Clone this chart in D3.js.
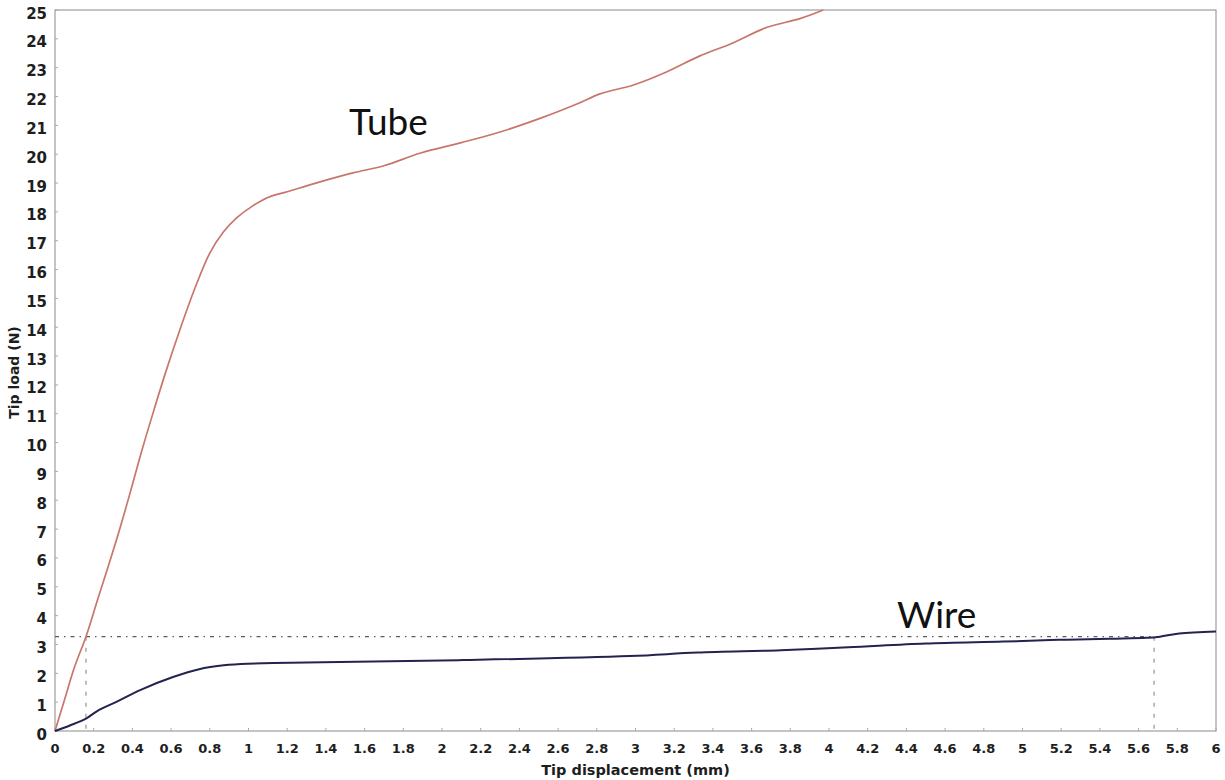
<!DOCTYPE html>
<html>
<head>
<meta charset="utf-8">
<script src="https://cdn.jsdelivr.net/npm/d3@7"></script>
<style>
  html, body { margin: 0; padding: 0; background: #fff; }
  svg { display: block; }
  .tick-label { font-family: "DejaVu Sans", sans-serif; font-weight: bold; fill: #1e1e1e; }
  .axis-title { font-family: "DejaVu Sans", sans-serif; font-weight: bold; fill: #1e1e1e; }
  .curve-name { font-family: Lato, "Open Sans", sans-serif; fill: #111; }
</style>
</head>
<body>
<svg id="chart" width="1225" height="780"></svg>
<script>
// Tip load vs tip displacement for the tube and the wire
const tubeDisp = [0, 0.05, 0.10, 0.16, 0.22, 0.27, 0.33, 0.39, 0.45, 0.51, 0.57, 0.65, 0.72, 0.80, 0.87, 0.94, 1.02, 1.10, 1.20, 1.37, 1.54, 1.70, 1.89, 2.10, 2.30, 2.51, 2.70, 2.82, 2.99, 3.16, 3.33, 3.50, 3.68, 3.85, 3.97];
const tubeLoad = [0, 1.1, 2.2, 3.27, 4.55, 5.6, 6.9, 8.3, 9.75, 11.1, 12.4, 14.0, 15.3, 16.57, 17.3, 17.8, 18.2, 18.5, 18.7, 19.04, 19.35, 19.6, 20.04, 20.4, 20.77, 21.25, 21.75, 22.1, 22.4, 22.85, 23.4, 23.85, 24.4, 24.7, 25.0];

const wireDisp = [0, 0.08, 0.165, 0.22, 0.32, 0.44, 0.61, 0.75, 0.85, 0.96, 1.13, 1.47, 2.11, 2.97, 3.32, 3.75, 4.10, 4.50, 4.90, 5.19, 5.45, 5.64, 5.71, 5.81, 6.0];
const wireLoad = [0, 0.2, 0.45, 0.7, 1.02, 1.42, 1.87, 2.15, 2.26, 2.32, 2.36, 2.39, 2.46, 2.6, 2.72, 2.8, 2.9, 3.03, 3.1, 3.16, 3.2, 3.23, 3.27, 3.38, 3.45];

// Reference load level and the two displacements where each curve reaches it
const refLoad = 3.27;
const refDisp = [0.16, 5.68];

const xTicks = d3.range(0, 31).map(i => +(i * 0.2).toFixed(1));
const yTicks = d3.range(0, 26);

const svg = d3.select("#chart");
const m = { left: 55, right: 1216, top: 10, bottom: 731 };

const x = d3.scaleLinear().domain([0, 6]).range([m.left, m.right]);
const y = d3.scaleLinear().domain([0, 25]).range([m.bottom, m.top]);

// plot frame
svg.append("rect")
  .attr("x", m.left).attr("y", m.top)
  .attr("width", m.right - m.left).attr("height", m.bottom - m.top)
  .attr("fill", "#fff").attr("stroke", "#8a8a8a").attr("stroke-width", 1);

// small inward tick marks
svg.append("g").selectAll("line").data(yTicks).join("line")
  .attr("x1", m.left).attr("x2", m.left + 3)
  .attr("y1", d => y(d)).attr("y2", d => y(d))
  .attr("stroke", "#aaa");
svg.append("g").selectAll("line").data(xTicks).join("line")
  .attr("y1", m.bottom).attr("y2", m.bottom - 3)
  .attr("x1", d => x(d)).attr("x2", d => x(d))
  .attr("stroke", "#aaa");

// tick labels
svg.append("g").selectAll("text").data(yTicks).join("text")
  .attr("class", "tick-label")
  .attr("x", 47).attr("y", d => y(d) + 4)
  .attr("text-anchor", "end").attr("dominant-baseline", "middle")
  .style("font-size", "15px")
  .text(d => d);

svg.append("g").selectAll("text").data(xTicks).join("text")
  .attr("class", "tick-label")
  .attr("x", d => x(d)).attr("y", 749)
  .attr("text-anchor", "middle").attr("dominant-baseline", "middle")
  .style("font-size", "13px")
  .text(d => d3.format("")(d));

// axis titles
svg.append("text").attr("class", "axis-title")
  .attr("x", (m.left + m.right) / 2).attr("y", 771)
  .attr("text-anchor", "middle").attr("dominant-baseline", "middle")
  .style("font-size", "14.5px")
  .text("Tip displacement (mm)");

svg.append("text").attr("class", "axis-title")
  .attr("transform", `translate(15, ${(m.top + m.bottom) / 2 + 2}) rotate(-90)`)
  .attr("text-anchor", "middle").attr("dominant-baseline", "middle")
  .style("font-size", "14px")
  .text("Tip load (N)");

// dashed reference lines
const refColor = "#5c5c5c";
svg.append("line")
  .attr("x1", x(0)).attr("x2", x(refDisp[1]))
  .attr("y1", y(refLoad)).attr("y2", y(refLoad))
  .attr("stroke", refColor).attr("stroke-width", 1.3)
  .attr("stroke-dasharray", "4,5,1.5,5");
svg.append("g").selectAll("line").data(refDisp).join("line")
  .attr("x1", d => x(d)).attr("x2", d => x(d))
  .attr("y1", y(refLoad)).attr("y2", y(0))
  .attr("stroke", "#888").attr("stroke-width", 1.1)
  .attr("stroke-dasharray", "4,7");

// curves
const line = d3.line().x(d => x(d[0])).y(d => y(d[1])).curve(d3.curveCatmullRom.alpha(0.5));

svg.append("path")
  .datum(d3.zip(tubeDisp, tubeLoad))
  .attr("d", line)
  .attr("fill", "none").attr("stroke", "#c8766c").attr("stroke-width", 1.7)
  .attr("stroke-linejoin", "round");

svg.append("path")
  .datum(d3.zip(wireDisp, wireLoad))
  .attr("d", line)
  .attr("fill", "none").attr("stroke", "#23234f").attr("stroke-width", 2)
  .attr("stroke-linejoin", "round");

// curve names
svg.append("text").attr("class", "curve-name")
  .attr("x", 349).attr("y", 135)
  .style("font-size", "37px")
  .text("Tube");
svg.append("text").attr("class", "curve-name")
  .attr("x", 897).attr("y", 628)
  .style("font-size", "37px")
  .text("Wire");
</script>
</body>
</html>
